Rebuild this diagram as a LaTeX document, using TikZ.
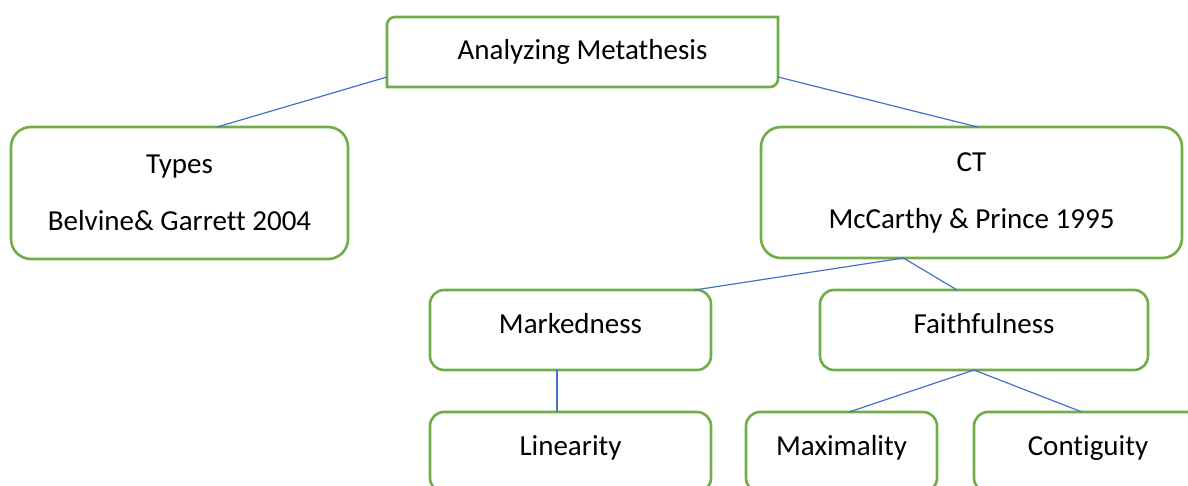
\documentclass[tikz,border=0pt]{standalone}
\usepackage{fontspec}
\setmainfont{Carlito}[Ligatures=NoCommon]
\usepackage{tikz}
\usetikzlibrary{positioning}

\definecolor{boxgreen}{HTML}{70AD47}
\definecolor{linkblue}{HTML}{4472C4}

\begin{document}
\begin{tikzpicture}[x=0.5pt, y=0.5pt,
        box/.style={draw=boxgreen, line width=1.3pt, rounded corners=7pt,
            minimum height=40pt, inner sep=0pt, outer sep=0pt,
            font=\fontsize{14.5}{17}\selectfont, text height=10pt, text depth=7pt},
        bigbox/.style={box, rounded corners=10pt, align=center, text height=, text depth=},
        link/.style={draw=linkblue, line width=0.6pt}]
        \useasboundingbox (0,0) rectangle (1188,-486);
        \clip (0,0) rectangle (1188,-486);

        % top box, only two corners rounded
        \node[box, draw=none, text height=, text depth=, minimum width=195.5pt, minimum height=35pt] (meta) at (582.5,-52) {Analyzing Metathesis};
        \draw[draw=boxgreen, line width=1.3pt] (meta.south west) -- ([yshift=-4pt]meta.north west)
            arc[start angle=180, end angle=90, radius=4pt] -- (meta.north east)
            -- ([yshift=4pt]meta.south east) arc[start angle=0, end angle=-90, radius=4pt] -- cycle;

        \node[bigbox, minimum width=168.5pt, minimum height=66pt] (types) at (179.5,-193) {Types\\[11.5pt]Belvine\& Garrett 2004};
        \node[bigbox, minimum width=210.5pt, minimum height=65.5pt] (ct) at (971.5,-192.5) {CT\\[11.5pt]McCarthy \& Prince 1995};

        \node[box, minimum width=140.5pt] (mark) at (570.5,-330) {Markedness};
        \node[box, minimum width=164pt] (faith) at (984,-330) {Faithfulness};

        \node[box, minimum width=140.5pt] (lin) at (570.5,-452) {Linearity};
        \node[box, minimum width=95.5pt] (max) at (841.5,-452) {Maximality};
        \node[box, minimum width=114pt] (cont) at (1088,-452) {Contiguity};

        % connectors
        \draw[link] ([yshift=5pt]meta.south west) -- ([xshift=18.75pt]types.north);
        \draw[link] ([yshift=5pt]meta.south east) -- ([xshift=3pt]ct.north);
        \draw[link] ([xshift=-34pt]ct.south) -- ([xshift=62pt]mark.north);
        \draw[link] ([xshift=-34pt]ct.south) -- ([xshift=-13.5pt]faith.north);
        \draw[link] ([xshift=-6.75pt]mark.south) -- ([xshift=-6.75pt]lin.north);
        \draw[link] ([xshift=-5pt]faith.south) -- ([xshift=3.75pt]max.north);
        \draw[link] ([xshift=-5pt]faith.south) -- ([xshift=-3pt]cont.north);
    \end{tikzpicture}
\end{document}
